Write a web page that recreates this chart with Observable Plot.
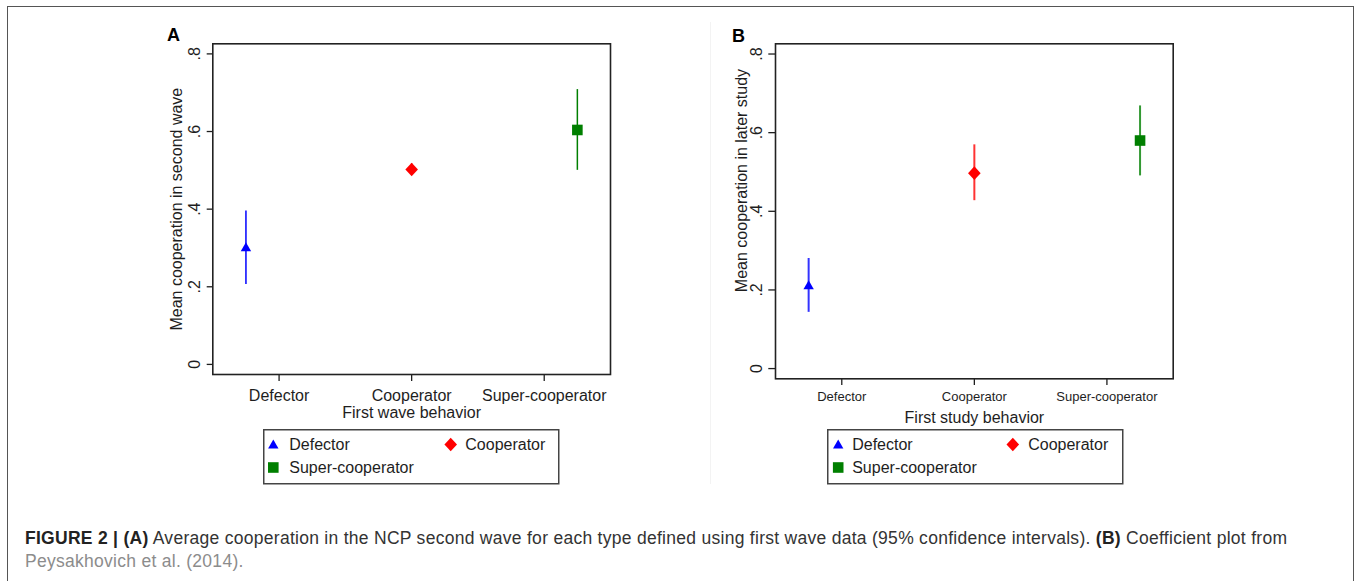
<!DOCTYPE html>
<html>
<head>
<meta charset="utf-8">
<script src="https://cdn.jsdelivr.net/npm/d3@7"></script>
<script src="https://cdn.jsdelivr.net/npm/@observablehq/plot@0.6"></script>
<style>
  html, body { margin: 0; padding: 0; background: #fff; }
  body { font-family: "Liberation Sans", Arial, sans-serif; }
  #page { position: relative; width: 1357px; height: 581px; overflow: hidden; background: #fff; }
  #outer { position: absolute; left: 7px; top: 5.5px; width: 1345px; height: 640px; border: 1.5px solid #555; }
  #sep { position: absolute; left: 710px; top: 22px; width: 1px; height: 462px; background: #f3f3f3; }
  .plbl { position: absolute; font-weight: bold; font-size: 18px; color: #000; line-height: 1; }
  .panel { position: absolute; top: 20px; }
  .legend { position: absolute; top: 429px; }
  #caption { position: absolute; left: 25px; top: 527px; width: 1310px; font-size: 17.5px; line-height: 23px; letter-spacing: 0.28px; color: #333; white-space: nowrap; }
  #caption b { color: #222; }
  #caption .ref { color: #8c8c8c; }
</style>
</head>
<body>
<div id="page">
  <div id="outer"></div>
  <div id="sep"></div>
  <div class="plbl" style="left:167px;top:26px;">A</div>
  <div class="plbl" style="left:732px;top:27px;">B</div>
  <div id="panelA" class="panel" style="left:150px;"></div>
  <div id="panelB" class="panel" style="left:710px;"></div>
  <div id="legendA" class="legend" style="left:263px;"></div>
  <div id="legendB" class="legend" style="left:826.5px;"></div>
  <div id="caption">
    <div><b>FIGURE 2 | (A)</b> Average cooperation in the NCP second wave for each type defined using first wave data (95% confidence intervals). <b>(B)</b> Coefficient plot from</div>
    <div><span class="ref">Peysakhovich et al. (2014).</span></div>
  </div>
</div>
<script>
// ---- data ----
const categories = ["Defector", "Cooperator", "Super-cooperator"];
const plotX = [0.75, 2, 3.25];          // Stata offsets markers from the category ticks
const xTicks = [1, 2, 3];
const yTicks = [0, 0.2, 0.4, 0.6, 0.8];
const yTickLabels = ["0", ".2", ".4", ".6", ".8"];

const meanA = [0.302, 0.502, 0.604];
const lowA  = [0.206, 0.487, 0.500];
const highA = [0.395, 0.517, 0.708];

const meanB = [0.212, 0.497, 0.580];
const lowB  = [0.143, 0.427, 0.490];
const highB = [0.280, 0.569, 0.668];

const colors = ["#0000ff", "#ff0000", "#007f00"];

// ---- marker shapes (Stata-like) ----
const triangleSym = { draw(ctx) { const w = 10.4, h = 9; ctx.moveTo(0, -h / 2 - 0.5); ctx.lineTo(w / 2, h / 2 - 0.5); ctx.lineTo(-w / 2, h / 2 - 0.5); ctx.closePath(); } };
const diamondSym  = { draw(ctx) { const w = 12.6, h = 13.6; ctx.moveTo(0, -h / 2); ctx.lineTo(w / 2, 0); ctx.lineTo(0, h / 2); ctx.lineTo(-w / 2, 0); ctx.closePath(); } };
const squareSym   = { draw(ctx) { const s = 10.6; ctx.rect(-s / 2, -s / 2, s, s); } };
const symbols = [triangleSym, diamondSym, squareSym];

function panel(o) {
  const rows = categories.map((c, i) => ({ c, i, x: plotX[i], m: o.mean[i], lo: o.low[i], hi: o.high[i] }));
  return Plot.plot({
    width: 480, height: 420,
    marginLeft: o.ml, marginRight: o.mr, marginTop: o.mt, marginBottom: o.mb,
    style: { fontFamily: "'Liberation Sans', Arial, sans-serif", color: "#1e1e1e", background: "transparent", overflow: "visible" },
    x: { domain: [0.5, 3.5], axis: null },
    y: { domain: [-0.026, 0.826], axis: null },
    marks: [
      Plot.axisX({ ticks: xTicks, tickFormat: t => categories[t - 1], tickSize: o.xTickSize, tickPadding: o.xTickPad, fontSize: o.xTickFont, label: null, strokeWidth: 1.3 }),
      Plot.axisY({ ticks: yTicks, tickFormat: () => "", tickSize: o.yTickSize, label: null, strokeWidth: 1.3 }),
      Plot.text(yTicks, { y: d => d, text: (d, i) => yTickLabels[i], frameAnchor: "left", dx: o.yTickDx, rotate: -90, textAnchor: "middle", lineAnchor: "middle", fontSize: 16 }),
      Plot.text([o.yLabel], { frameAnchor: "left", dx: o.yLabelDx, dy: o.yLabelDy, rotate: -90, textAnchor: "middle", lineAnchor: "middle", fontSize: 16 }),
      Plot.text([o.xLabel], { frameAnchor: "bottom", dy: o.xLabelDy, lineAnchor: "top", textAnchor: "middle", fontSize: 16 }),
      Plot.frame({ stroke: "#222", strokeWidth: 1.6 }),
      Plot.ruleX(rows, { x: "x", y1: "lo", y2: "hi", stroke: d => colors[d.i], strokeWidth: o.ruleWidth, strokeOpacity: o.ruleOpacity }),
      ...rows.map(r => Plot.dot([r], { x: "x", y: "m", symbol: symbols[r.i], fill: colors[r.i], stroke: "none", r: 5 }))
    ]
  });
}

document.getElementById("panelA").append(panel({
  mean: meanA, low: lowA, high: highA,
  yLabel: "Mean cooperation in second wave", xLabel: "First wave behavior",
  ml: 62.3, mr: 20, mt: 23.3, mb: 66,
  xTickSize: 7, xTickPad: 8, xTickFont: 16, yTickSize: 5.6,
  yTickDx: -17.8, yLabelDx: -35.8, yLabelDy: 0, xLabelDy: 32,
  ruleWidth: 1.5, ruleOpacity: 1
}));

document.getElementById("panelB").append(panel({
  mean: meanB, low: lowB, high: highB,
  yLabel: "Mean cooperation in later study", xLabel: "First study behavior",
  ml: 65, mr: 17.3, mt: 23.3, mb: 61.7,
  xTickSize: 6.7, xTickPad: 6, xTickFont: 13, yTickSize: 6.7,
  yTickDx: -18.3, yLabelDx: -34, yLabelDy: -30.8, xLabelDy: 32.4,
  ruleWidth: 2, ruleOpacity: 0.8
}));

// ---- legends ----
function legend(el, layout) {
  const W = 295, H = 54;
  const svg = d3.select(el).append("svg").attr("width", W + 2).attr("height", H + 2)
    .style("overflow", "visible").style("font-family", "'Liberation Sans', Arial, sans-serif");
  svg.append("rect").attr("x", 0.75).attr("y", 0.75).attr("width", W).attr("height", H)
    .attr("fill", "#fff").attr("stroke", "#444").attr("stroke-width", 1.5);
  categories.forEach((c, i) => {
    const p = layout[i];
    const path = d3.path();
    symbols[i].draw(path);
    svg.append("path").attr("d", path.toString()).attr("transform", `translate(${p.sx},${p.y})`).attr("fill", colors[i]);
    svg.append("text").attr("x", p.tx).attr("y", p.y).attr("dy", "0.36em").attr("font-size", 16).attr("fill", "#1e1e1e").text(c);
  });
}
legend(document.getElementById("legendA"), [
  { sx: 10.3, tx: 26.3, y: 15.5 }, { sx: 187.7, tx: 202.3, y: 15.5 }, { sx: 10.3, tx: 26.3, y: 38.5 }
]);
legend(document.getElementById("legendB"), [
  { sx: 11.2, tx: 25.2, y: 15.5 }, { sx: 185.8, tx: 201.2, y: 15.5 }, { sx: 11.2, tx: 25.2, y: 38.5 }
]);
</script>
</body>
</html>
